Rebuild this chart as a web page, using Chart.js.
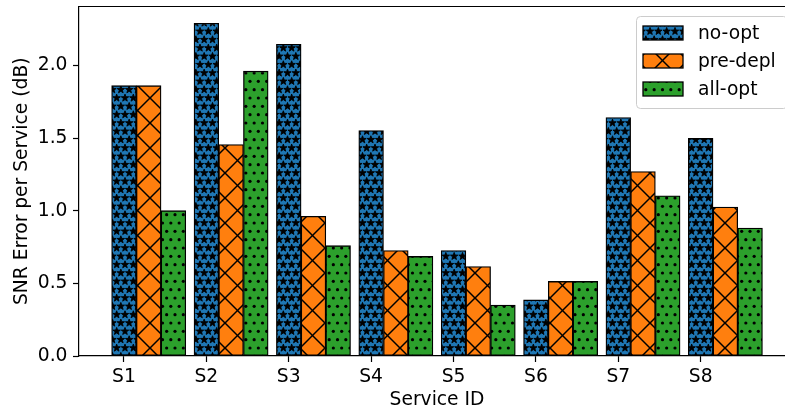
<!DOCTYPE html>
<html>
<head>
<meta charset="utf-8">
<script src="https://cdn.jsdelivr.net/npm/chart.js@4/dist/chart.umd.min.js"></script>
<style>
  html, body { margin: 0; padding: 0; background: #fff; overflow: hidden; }
  #wrap { width: 800px; height: 411px; }
</style>
</head>
<body>
<div id="wrap"><canvas id="c" width="800" height="411"></canvas></div>
<script>
// ---- data ----
const categories = ['S1', 'S2', 'S3', 'S4', 'S5', 'S6', 'S7', 'S8'];
const seriesNames = ['no-opt', 'pre-depl', 'all-opt'];
const noOpt   = [1.86, 2.29, 2.145, 1.552, 0.726, 0.386, 1.641, 1.497];
const preDepl = [1.86, 1.455, 0.961, 0.726, 0.616, 0.513, 1.269, 1.025];
const allOpt  = [1.00, 1.96, 0.759, 0.685, 0.350, 0.513, 1.103, 0.880];
const yTicks  = [0, 0.5, 1.0, 1.5, 2.0];
const groupStep = 0.3; // bar position step within a group (category units)

const seriesValues = [noOpt, preDepl, allOpt];
const colors = ['#1f77b4', '#ff7f0e', '#2ca02c'];
const hatchKinds = ['star', 'cross', 'dot'];
const FONT = "'DejaVu Sans', sans-serif";
const FS = 18.7;

function starPath(ctx, cx, cy, ro, ri) {
  ctx.beginPath();
  for (let k = 0; k < 10; k++) {
    const r = k % 2 === 0 ? ro : ri;
    const a = -Math.PI / 2 + k * Math.PI / 5;
    const x = cx + r * Math.cos(a), y = cy + r * Math.sin(a);
    if (k === 0) ctx.moveTo(x, y); else ctx.lineTo(x, y);
  }
  ctx.closePath();
}

function makePattern(kind, color) {
  const c = document.createElement('canvas');
  const ctx = c.getContext('2d');
  if (kind === 'cross') {
    c.width = 25; c.height = 25;
    ctx.fillStyle = color; ctx.fillRect(0, 0, 25, 25);
    ctx.strokeStyle = '#000'; ctx.lineWidth = 1.5;
    for (let o = -25; o <= 25; o += 25) {
      ctx.beginPath(); ctx.moveTo(o, 0); ctx.lineTo(o + 25, 25); ctx.stroke();
      ctx.beginPath(); ctx.moveTo(o, 25); ctx.lineTo(o + 25, 0); ctx.stroke();
    }
  } else {
    const w = 25, h = 50, s = 25 / 3;
    c.width = w; c.height = h;
    ctx.fillStyle = color; ctx.fillRect(0, 0, w, h);
    ctx.fillStyle = '#000'; ctx.strokeStyle = '#000'; ctx.lineWidth = 0.9;
    for (let r = -1; r <= 7; r++) {
      for (let q = -1; q <= 4; q++) {
        const x = q * s + (Math.abs(r) % 2 ? s / 2 : 0);
        const y = r * s;
        if (kind === 'star') {
          starPath(ctx, x, y, 3.9, 1.6);
          ctx.fill(); ctx.stroke();
        } else {
          ctx.beginPath(); ctx.arc(x, y, 1.6, 0, Math.PI * 2); ctx.fill();
        }
      }
    }
  }
  const p = document.createElement('canvas').getContext('2d').createPattern(c, 'repeat');
  p.setTransform(new DOMMatrix().translate(0, -2));
  return p;
}

const patterns = hatchKinds.map((k, i) => makePattern(k, colors[i]));

const datasets = seriesNames.map((name, s) => ({
  label: name,
  data: seriesValues[s].map((v, i) => ({ x: i + s * groupStep, y: v })),
  backgroundColor: patterns[s],
  borderColor: '#000',
  borderWidth: 1.3,
  borderSkipped: false,
  barThickness: 24.7,
  grouped: false,
}));

const frame = {
  id: 'frame',
  afterDraw(chart) {
    const { ctx, chartArea: a } = chart;
    ctx.save();
    ctx.strokeStyle = '#000'; ctx.lineWidth = 1.2;
    ctx.beginPath();
    ctx.moveTo(a.left, a.top); ctx.lineTo(a.right, a.top); ctx.lineTo(a.right, a.bottom);
    ctx.stroke();
    // legend
    const bx = 636.5, by = 16.5, bw = 151, bh = 92, rr = 4;
    ctx.beginPath();
    ctx.moveTo(bx + rr, by); ctx.lineTo(bx + bw - rr, by); ctx.quadraticCurveTo(bx + bw, by, bx + bw, by + rr);
    ctx.lineTo(bx + bw, by + bh - rr); ctx.quadraticCurveTo(bx + bw, by + bh, bx + bw - rr, by + bh);
    ctx.lineTo(bx + rr, by + bh); ctx.quadraticCurveTo(bx, by + bh, bx, by + bh - rr);
    ctx.lineTo(bx, by + rr); ctx.quadraticCurveTo(bx, by, bx + rr, by);
    ctx.closePath();
    ctx.fillStyle = 'rgba(255,255,255,0.8)'; ctx.fill();
    ctx.strokeStyle = '#cccccc'; ctx.lineWidth = 1; ctx.stroke();
    seriesNames.forEach((name, s) => {
      const cy = 33 + s * 28;
      ctx.fillStyle = patterns[s];
      ctx.fillRect(643, cy - 7, 40, 14);
      ctx.strokeStyle = '#000'; ctx.lineWidth = 1.3;
      ctx.strokeRect(643, cy - 7, 40, 14);
      ctx.fillStyle = '#000';
      ctx.font = FS + 'px ' + FONT;
      ctx.textBaseline = 'middle'; ctx.textAlign = 'left';
      ctx.fillText(name, 698, cy + 1);
    });
    ctx.restore();
  }
};

new Chart(document.getElementById('c'), {
  type: 'bar',
  data: { datasets },
  options: {
    responsive: false,
    animation: false,
    layout: { padding: { left: 0, right: 5, top: 6.5, bottom: 0 } },
    plugins: { legend: { display: false }, tooltip: { enabled: false } },
    scales: {
      x: {
        type: 'linear',
        offset: false,
        min: -0.546, max: 8.145,
        afterFit(scale) { scale.height = 55; scale.paddingLeft = 0; scale.paddingRight = 0; },
        afterBuildTicks(scale) { scale.ticks = categories.map((c, i) => ({ value: i })); },
        ticks: {
          autoSkip: false, maxRotation: 0, padding: 4,
          color: '#000', font: { family: FONT, size: FS },
          callback: (v) => categories[v] ?? ''
        },
        grid: { display: true, offset: false, drawOnChartArea: false, drawTicks: true, tickLength: 6, tickColor: '#000', tickWidth: 1.2 },
        border: { display: true, color: '#000', width: 1.2 },
        title: { display: true, text: 'Service ID', color: '#000', font: { family: FONT, size: FS }, padding: { top: 0, bottom: 0 } }
      },
      y: {
        min: 0, max: 2.405,
        afterFit(scale) { scale.width = 79; scale.paddingTop = 0; scale.paddingBottom = 0; },
        afterBuildTicks(scale) { scale.ticks = yTicks.map(v => ({ value: v })); },
        ticks: {
          padding: 5.5, color: '#000', font: { family: FONT, size: FS },
          callback: (v) => Number(v).toFixed(1)
        },
        grid: { display: true, drawOnChartArea: false, drawTicks: true, tickLength: 6, tickColor: '#000', tickWidth: 1.2 },
        border: { display: true, color: '#000', width: 1.2 },
        title: { display: true, text: 'SNR Error per Service (dB)', color: '#000', font: { family: FONT, size: FS }, padding: { top: 10.5, bottom: 0 } }
      }
    }
  },
  plugins: [frame]
});
</script>
</body>
</html>
